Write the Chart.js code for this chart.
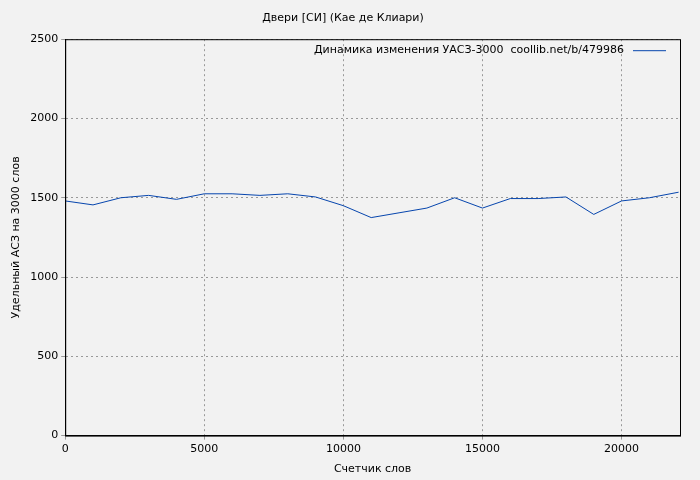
<!DOCTYPE html>
<html>
<head>
<meta charset="utf-8">
<script src="https://cdn.jsdelivr.net/npm/chart.js@4"></script>
<style>
html,body{margin:0;padding:0;background:#f2f2f2;}
#wrap{width:700px;height:480px;}
</style>
</head>
<body>
<div id="wrap"><canvas id="c" width="700" height="480"></canvas></div>
<script>
// данные графика
const words = [0, 1000, 2000, 3000, 4000, 5000, 6000, 7000, 8000, 9000, 10000, 11000,
    12000, 13000, 14000, 15000, 16000, 17000, 18000, 19000, 20000, 21000, 22050];
const uasz = [1480, 1455, 1500, 1515, 1490, 1525, 1525, 1515, 1525, 1505, 1450, 1375,
    1405, 1435, 1500, 1435, 1495, 1495, 1505, 1395, 1480, 1500, 1535];
const xTicks = [0, 5000, 10000, 15000, 20000];
const seriesLabel = 'Динамика изменения УАСЗ-3000  coollib.net/b/479986';

const font = { family: 'DejaVu Sans', size: 11, weight: 'normal' };
Chart.defaults.font = font;
Chart.defaults.color = '#000';

// легенда внутри области графика и рамка
const legendPlugin = {
    id: 'inLegend',
    afterDraw(chart) {
        const { ctx, chartArea } = chart;
        ctx.save();
        ctx.strokeStyle = '#000';
        ctx.lineWidth = 1;
        ctx.strokeRect(chartArea.left + 0.5, chartArea.top + 0.5, chartArea.width, chartArea.height);
        ctx.font = '11px DejaVu Sans';
        ctx.fillStyle = '#000';
        ctx.textAlign = 'right';
        ctx.textBaseline = 'middle';
        ctx.fillText(seriesLabel, chartArea.right - 56, chartArea.top + 11);
        ctx.strokeStyle = '#0645ad';
        ctx.beginPath();
        ctx.moveTo(chartArea.right - 47, chartArea.top + 11.5);
        ctx.lineTo(chartArea.right - 14, chartArea.top + 11.5);
        ctx.stroke();
        ctx.restore();
    }
};

new Chart(document.getElementById('c'), {
    type: 'line',
    data: {
        datasets: [{
            data: words.map((w, i) => ({ x: w, y: uasz[i] })),
            borderColor: '#0645ad',
            borderWidth: 1,
            pointRadius: 0,
            tension: 0
        }]
    },
    options: {
        responsive: false,
        animation: false,
        layout: { padding: { top: 2, right: 20, left: 6, bottom: 0 } },
        plugins: {
            legend: { display: false },
            title: { display: true, text: 'Двери [СИ] (Кае де Клиари)', font: font, padding: { top: 10, bottom: 14 } },
            tooltip: { enabled: false }
        },
        scales: {
            x: {
                type: 'linear',
                min: 0, max: 22100,
                afterBuildTicks: s => { s.ticks = xTicks.map(v => ({ value: v })); },
                ticks: { maxRotation: 0, autoSkip: false, callback: v => String(v) },
                grid: { color: '#999', tickLength: 4 },
                border: { color: '#000', dash: [2, 3] },
                title: { display: true, text: 'Счетчик слов', font: font }
            },
            y: {
                min: 0, max: 2500,
                ticks: { stepSize: 500, callback: v => String(v) },
                grid: { color: '#999', tickLength: 4 },
                border: { color: '#000', dash: [2, 3] },
                title: { display: true, text: 'Удельный АСЗ на 3000 слов', font: font }
            }
        }
    },
    plugins: [legendPlugin]
});
</script>
</body>
</html>
